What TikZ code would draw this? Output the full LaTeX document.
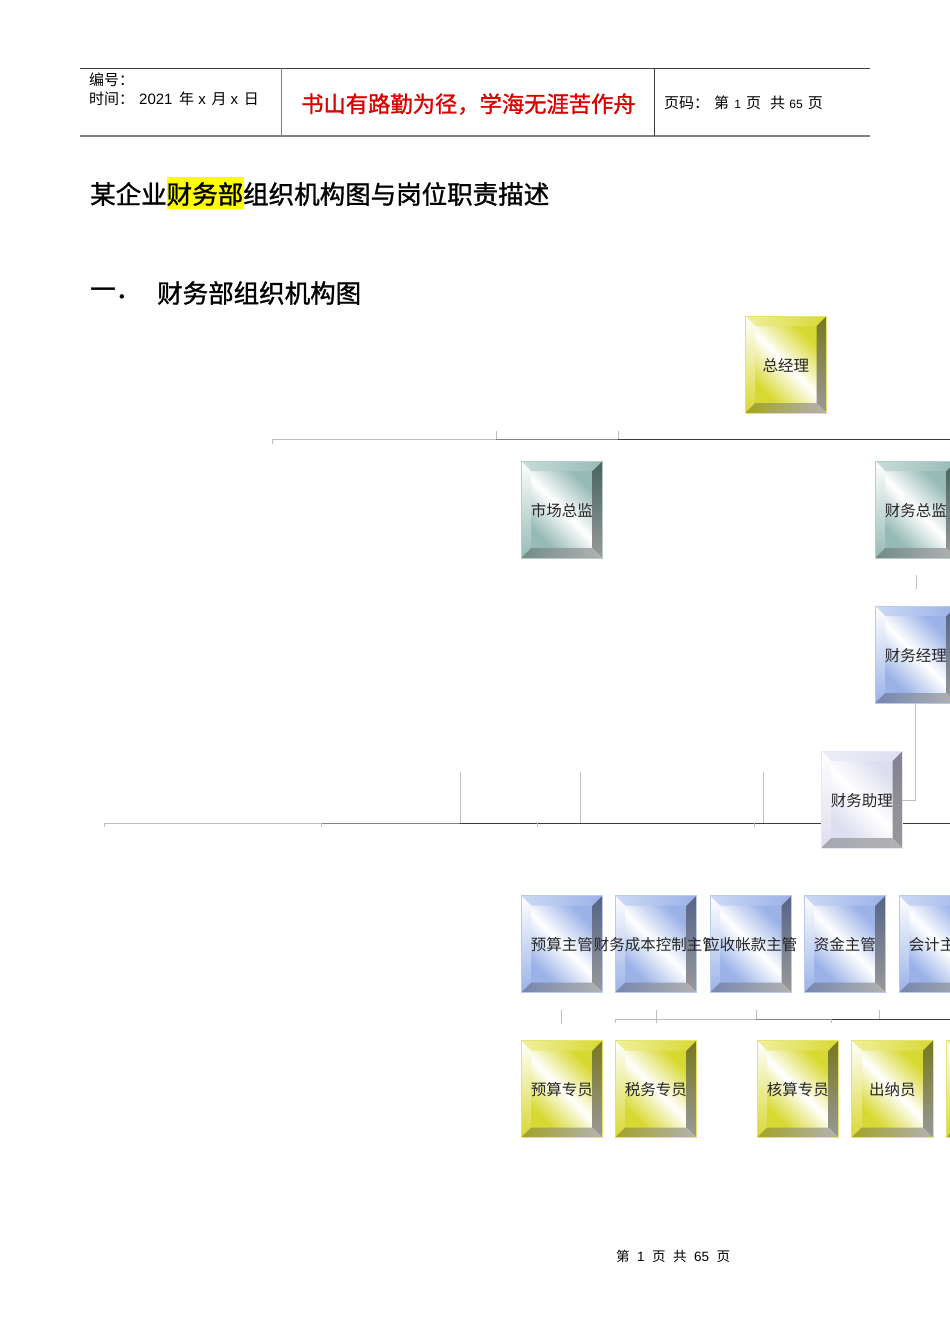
\documentclass[tikz,border=0pt]{standalone}
\usepackage{fontspec}
\setmainfont{Liberation Sans}
\newfontfamily\cjk{Noto Sans CJK SC}
\newfontfamily\cjkmed[FakeBold=1.2]{Noto Sans CJK SC}
\definecolor{yelmain}{RGB}{216,216,50}
\definecolor{yellight}{RGB}{240,240,160}
\definecolor{yeldark}{RGB}{120,120,30}
\definecolor{yellow1}{RGB}{255,255,0}
\definecolor{tealmain}{RGB}{150,186,181}
\definecolor{teallight}{RGB}{200,222,218}
\definecolor{tealdark}{RGB}{70,100,95}
\definecolor{blumain}{RGB}{155,178,232}
\definecolor{blulight}{RGB}{205,218,245}
\definecolor{bludark}{RGB}{85,100,135}
\definecolor{whimain}{RGB}{222,222,240}
\definecolor{whilight}{RGB}{238,238,248}
\definecolor{whidark}{RGB}{130,130,145}
\definecolor{ruledark}{RGB}{60,60,60}
\definecolor{rulemid}{RGB}{130,130,130}
\definecolor{rulelight}{RGB}{190,190,190}
\tikzset{
    boxlabel/.style={font=\cjk\fontsize{15.5}{15.5}\selectfont, text=black!85, inner sep=0pt, minimum width=81pt, minimum height=97pt},
    headtext/.style={anchor=west, inner sep=0pt, font=\fontsize{15}{15}\selectfont},
    titletext/.style={anchor=west, inner sep=0pt, font=\cjkmed\fontsize{25.5}{25.5}\selectfont},
    lightrule/.style={draw=rulelight, line width=.9pt},
    midrule/.style={draw=rulemid, line width=.9pt},
    darkrule/.style={draw=ruledark, line width=.9pt}
}
% left x, top y, palette, name, text
\newcommand{\bevelbox}[5]{
\begin{scope}[shift={(#1,#2)}]
\shade[left color=#3main, right color=#3main, middle color=white, shading angle=-45] (10,10) rectangle (71.5,87);
\shade[left color=#3light, right color=#3main] (0,0) -- (81.5,0) -- (71.5,10) -- (10,10) -- cycle;
\shade[top color=white, bottom color=#3main] (0,0) -- (10,10) -- (10,87) -- (0,97) -- cycle;
\shade[top color=#3dark, bottom color=gray!80] (81.5,0) -- (81.5,97) -- (71.5,87) -- (71.5,10) -- cycle;
\shade[left color=#3main!75!black, right color=gray!60] (0,97) -- (10,87) -- (71.5,87) -- (81.5,97) -- cycle;
\draw[#3main!70!white, line width=.7pt] (0,0) rectangle (81.5,97);
\node[boxlabel] (#4) at (40.75,49.5) {#5};
\end{scope}
}
\begin{document}
\begin{tikzpicture}[x=1pt,y=-1pt]
\useasboundingbox (0,0) rectangle (950,1344);

% Page head
\coordinate (headTL) at (80,68);
\coordinate (headTR) at (870,68);
\coordinate (headBL) at (80,136);
\coordinate (headBR) at (870,136);
\draw[ruledark, line width=.8pt] (headTL) -- (headTR);
\draw[gray, line width=1.2pt] (headBL) -- (headBR);
\draw[gray, line width=1pt] (281,68) -- (281,136);
\draw[ruledark, line width=.8pt] (654.5,68) -- (654.5,136);
\node[headtext] (codeNo) at (89,80) {\cjk 编号：};
\node[headtext] (timeNo) at (89,99) {{\cjk 时间：}\hspace{5pt}2021\hspace{2.5pt} {\cjk 年} x\hspace{1.5pt} {\cjk 月} x\hspace{1.5pt} {\cjk 日}};
\node[headtext, font=\cjkmed\fontsize{22.3}{22.3}\selectfont, text=red!85!black] (motto) at (301,104) {书山有路勤为径，学海无涯苦作舟};
\node[headtext] (pageNo) at (664,103) {{\cjk 页码：}\hspace{5pt}{\cjk 第}\hspace{1pt} {\fontsize{12}{12}\selectfont 1}\hspace{1pt} {\cjk 页}\hspace{9pt}{\cjk 共} {\fontsize{12}{12}\selectfont 65}\hspace{1pt} {\cjk 页}};

% Title
\fill[yellow1] (167,177) rectangle (244,209);
\node[titletext] (title) at (90,194) {某企业财务部组织机构图与岗位职责描述};
\node[titletext] (secNo) at (90,293) {一．};
\node[titletext] (secTitle) at (157,293) {财务部组织机构图};

% Rules
\coordinate (topA) at (272,439);
\coordinate (topB) at (496,439);
\coordinate (topC) at (618,439);
\coordinate (topD) at (950,439);
\coordinate (midA) at (104,823);
\coordinate (midB) at (321,823);
\coordinate (midC) at (460,823);
\coordinate (midD) at (950,823);
\coordinate (lowA) at (615,1019);
\coordinate (lowB) at (756,1019);
\coordinate (lowC) at (831,1019);
\coordinate (lowD) at (950,1019);
\draw[lightrule] (topA) -- (topB);
\draw[midrule] (topB) -- (topC);
\draw[darkrule] (topC) -- (topD);
\draw[lightrule] (midA) -- (midB);
\draw[midrule] (midB) -- (midC);
\draw[darkrule] (midC) -- (midD);
\draw[lightrule] (lowA) -- (lowB);
\draw[midrule] (lowB) -- (lowC);
\draw[darkrule] (lowC) -- (lowD);
\foreach \tx in {272} \draw[lightrule] (\tx,439) -- ++(0,5);
\foreach \tx in {496,618} \draw[lightrule] (\tx,439) -- ++(0,-8);
\foreach \tx in {104,321,537,754} \draw[lightrule] (\tx,823) -- ++(0,4);
\foreach \tx in {460,580,763} \draw[lightrule] (\tx,823) -- ++(0,-51);
\foreach \tx in {615,831} \draw[lightrule] (\tx,1019) -- ++(0,4);
\foreach \tx in {756,879} \draw[lightrule] (\tx,1019) -- ++(0,-9);
\draw[lightrule] (656,1010) -- (656,1023);
\draw[lightrule] (561,1010) -- (561,1024);
\draw[lightrule] (916,575) -- (916,589);

% Boxes
\bevelbox{745}{316}{yel}{gm}{总经理}
\bevelbox{521}{461}{teal}{mktDir}{市场总监}
\bevelbox{875}{461}{teal}{finDir}{财务总监}
\bevelbox{875}{606}{blu}{finMgr}{财务经理}
\bevelbox{821}{751}{whi}{finAsst}{财务助理}
\draw[lightrule] (finMgr.south) |- (finAsst.east);
\bevelbox{521}{895.5}{blu}{budgetHead}{预算主管}
\bevelbox{615}{895.5}{blu}{costHead}{财务成本控制主管}
\bevelbox{710}{895.5}{blu}{recvHead}{应收帐款主管}
\bevelbox{804}{895.5}{blu}{fundHead}{资金主管}
\bevelbox{899}{895.5}{blu}{acctHead}{会计主管}
\bevelbox{521}{1040.5}{yel}{budgetStaff}{预算专员}
\bevelbox{615}{1040.5}{yel}{taxStaff}{税务专员}
\bevelbox{757}{1040.5}{yel}{checkStaff}{核算专员}
\bevelbox{851.5}{1040.5}{yel}{cashier}{出纳员}
\bevelbox{946}{1040.5}{yel}{lastStaff}{}

% Page foot
\node[headtext, font=\fontsize{13.5}{13.5}\selectfont] (foot) at (616,1256) {{\cjk 第}\ \ 1\ \ {\cjk 页}\ \ {\cjk 共}\ \ 65\ \ {\cjk 页}};
\end{tikzpicture}
\end{document}
